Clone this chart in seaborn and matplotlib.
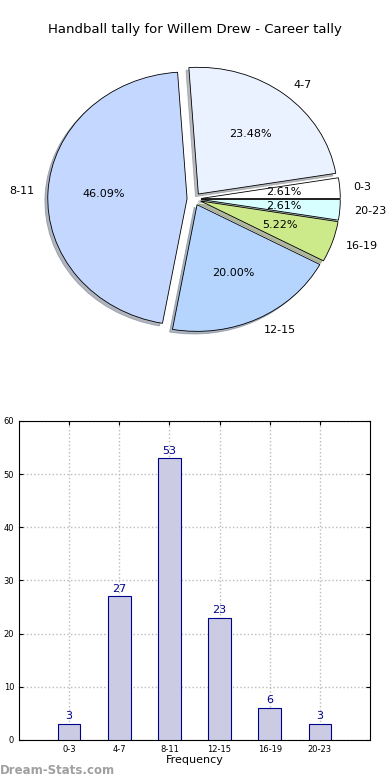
import matplotlib
matplotlib.use('Agg')
import matplotlib.pyplot as plt
import seaborn as sns

# --- datos ---
categorias = ['0-3', '4-7', '8-11', '12-15', '16-19', '20-23']
frecuencias = [3, 27, 53, 23, 6, 3]
colores_pie = ['#ffffff', '#eaf1ff', '#c4d8ff', '#b5d5ff', '#cdea8a', '#d8ffff']
explode = [0.05, 0.05, 0.05, 0.05, 0.05, 0.05]
titulo = 'Handball tally for Willem Drew - Career tally'

sns.set_style('white')
plt.rcParams['font.family'] = ['DejaVu Sans']
plt.rcParams['text.color'] = 'black'
plt.rcParams['xtick.color'] = 'black'
plt.rcParams['ytick.color'] = 'black'
plt.rcParams['axes.labelcolor'] = 'black'

fig = plt.figure(figsize=(3.9, 7.8), dpi=100)

# --- pie ---
ax1 = fig.add_axes([0.0, 0.5513, 1.0, 0.3846])
ax1.pie(frecuencias, labels=categorias, colors=colores_pie, explode=explode,
        autopct='%.2f%%', startangle=0,
        shadow={'ox': -0.015, 'oy': -0.015, 'shade': 0.5},
        wedgeprops={'edgecolor': 'black', 'linewidth': 0.6},
        textprops={'fontsize': 8, 'color': 'black'})
ax1.set_xlim(-1.393, 1.407)
ax1.set_ylim(-1.192, 1.176)
ax1.set_aspect('auto')
ax1.axis('off')
fig.text(0.5, 1 - 30 / 780, titulo, ha='center', va='center', fontsize=9.5)

# --- barras ---
ax2 = fig.add_axes([0.0487, 0.0513, 0.9, 0.409])
sns.barplot(x=categorias, y=frecuencias, ax=ax2, color='#cbcce3', saturation=1,
            edgecolor='#00008b', linewidth=0.8, width=0.45, zorder=3)
for i, v in enumerate(frecuencias):
    ax2.text(i, v + 0.5, str(v), ha='center', va='bottom', color='#00008b', fontsize=8)
ax2.set_xlim(-1, 6)
ax2.set_ylim(0, 60)
ax2.set_yticks(range(0, 61, 10))
ax2.grid(True, linestyle=':', color='#bbbbbb', linewidth=1.0, zorder=0)
ax2.set_axisbelow(True)
ax2.tick_params(axis='both', labelsize=6, direction='in', length=3,
                top=True, right=True, bottom=True, left=True)
ax2.set_xlabel('Frequency', fontsize=8, labelpad=1)
ax2.set_ylabel('')
for s in ax2.spines.values():
    s.set_color('black')
    s.set_linewidth(0.8)

fig.text(0.0, 1 - 771 / 780, 'Dream-Stats.com', color='#a0a0a0', fontsize=8.5,
         fontweight='bold', ha='left', va='center')

fig.savefig('out.png', dpi=100)
